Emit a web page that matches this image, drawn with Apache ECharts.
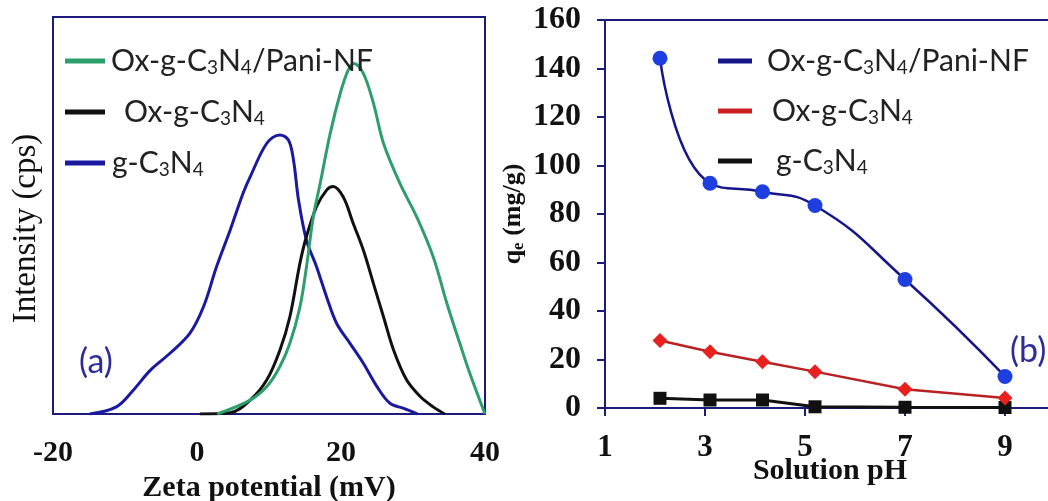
<!DOCTYPE html>
<html>
<head>
<meta charset="utf-8">
<script src="https://cdn.jsdelivr.net/npm/echarts@6/dist/echarts.min.js"></script>
<style>
html,body{margin:0;padding:0;background:#fff;overflow:hidden;}
#main{width:1048px;height:501px;}
</style>
</head>
<body>
<div id="main"></div>
<script>
// panel (a) : zeta potential distributions (x in mV, y arbitrary intensity)
var paniZetaX = [2.8, 7.4, 9.7, 11.5, 12.9, 14.3, 15.2, 16.15, 17.1, 18.5, 19.9, 21, 21.8, 23.1, 24.5, 25.9, 28.2, 30.5, 32.8, 34.7, 36.5, 37.9, 40];
var paniZetaY = [0, 3.5, 6.9, 11.9, 17.8, 27, 37, 49.7, 58, 70.7, 80.8, 86.6, 88.3, 85.8, 78.3, 68.2, 58, 49.7, 39.6, 27.9, 17.8, 10.2, 0];
var oxZetaX = [0.4, 4.6, 7.4, 9.7, 11.5, 12.9, 14.3, 15.2, 16.6, 18, 18.9, 20.3, 21.7, 23.1, 24.5, 25.9, 27.3, 29.1, 31, 32.8, 34.4];
var oxZetaY = [0, 0.3, 3.5, 8.6, 16, 24.5, 38, 44.7, 52.2, 56.4, 57.3, 54.7, 48, 41.3, 32.9, 24.5, 16.1, 8.6, 4.4, 1.8, 0];
var gcnZetaX = [-14.9, -11.2, -8.85, -6.5, -3.75, -1, 0.9, 2.7, 4.6, 6.4, 7.4, 9.7, 11.5, 12.7, 13.4, 14.1, 15.2, 16.6, 18, 19.4, 21.25, 23.1, 25, 26.8, 28.7, 30.6];
var gcnZetaY = [0, 1.8, 6, 11, 15.3, 20.3, 27, 37, 46.3, 55.6, 59.8, 68.2, 70.3, 69, 64, 53.9, 43.8, 37.1, 29.5, 22.8, 17.8, 12.8, 6.9, 2.7, 1.4, 0];

// panel (b) : adsorption capacity vs solution pH
var phValues = [2.1, 3.1, 4.15, 5.2, 7, 9];
var qePani = [144.2, 92.7, 89.2, 83.5, 53, 13];
var qeOx = [27.8, 23.2, 19.1, 15, 7.7, 4.1];
var qeGcn = [4, 3.3, 3.3, 0.5, 0.3, 0.2];
var phTicks = [1, 3, 5, 7, 9];

var navy = '#1c1c7c';
var serif = '"Liberation Serif", "Times New Roman", serif';
var sans = 'Lato, "Open Sans", sans-serif';

function pairs(xs, ys) {
  var out = [];
  for (var i = 0; i < xs.length; i++) out.push([xs[i], ys[i]]);
  return out;
}

// legend labels with subscripts, first token gets a small left pad
var padMap = {
  'Ox-g-C3N4/Pani-NF (a)': 1, 'Ox-g-C3N4 (a)': 14, 'g-C3N4 (a)': 2,
  'Ox-g-C3N4/Pani-NF (b)': 10, 'Ox-g-C3N4 (b)': 15, 'g-C3N4 (b)': 19
};
var legendRich = {
  t: {fontFamily: sans, fontSize: 30, color: '#222', lineHeight: 32},
  s: {fontFamily: sans, fontSize: 19, color: '#222', lineHeight: 19, verticalAlign: 'bottom'}
};
for (var k in padMap) {
  legendRich['p' + padMap[k]] = {fontFamily: sans, fontSize: 30, color: '#222', lineHeight: 32, padding: [0, 0, 0, padMap[k]]};
}
function legendText(name) {
  var base = name.replace(/ \([ab]\)$/, '');
  var s = '{p' + padMap[name] + '|' + base.replace('C3', 'C}{s|3}{t|').replace('N4', 'N}{s|4}{t|') + '}';
  return s.replace('{t|}', '');
}

var chart = echarts.init(document.getElementById('main'));
chart.setOption({
  backgroundColor: '#fff',
  animation: false,
  grid: [
    {left: 53, top: 17, width: 432, height: 397, show: true, borderColor: navy, borderWidth: 2, outerBoundsMode: 'none'},
    {left: 605, top: 20, width: 450, height: 388, show: true, borderColor: navy, borderWidth: 2, outerBoundsMode: 'none'}
  ],
  xAxis: [
    {
      type: 'value', gridIndex: 0, min: -20, max: 40, interval: 20,
      axisLine: {show: true, onZero: false, lineStyle: {color: navy, width: 2}},
      axisTick: {show: false},
      splitLine: {show: false},
      axisLabel: {margin: 24, fontFamily: serif, fontWeight: 'bold', fontSize: 30, color: '#111'},
      name: 'Zeta potential (mV)', nameLocation: 'middle', nameGap: 59, nameMoveOverlap: false,
      nameTextStyle: {fontFamily: serif, fontWeight: 'bold', fontSize: 30, color: '#111'}
    },
    {
      type: 'value', gridIndex: 1, min: 1, max: 10,
      axisLine: {show: true, onZero: false, lineStyle: {color: navy, width: 2}},
      axisTick: {show: true, length: 8, customValues: phTicks, lineStyle: {color: navy, width: 2}},
      splitLine: {show: false},
      axisLabel: {margin: 24, customValues: phTicks, fontFamily: serif, fontWeight: 'bold', fontSize: 31, color: '#111'},
      name: 'Solution pH', nameLocation: 'middle', nameGap: 48, nameMoveOverlap: false,
      nameTextStyle: {fontFamily: serif, fontWeight: 'bold', fontSize: 30, color: '#111'}
    }
  ],
  yAxis: [
    {
      type: 'value', gridIndex: 0, min: 0, max: 100,
      axisLine: {show: true, onZero: false, lineStyle: {color: navy, width: 2}},
      axisTick: {show: false}, axisLabel: {show: false}, splitLine: {show: false},
      name: 'Intensity (cps)', nameLocation: 'middle', nameGap: 10,
      nameTextStyle: {fontFamily: serif, fontSize: 33, color: '#111', padding: [0, 26, 0, 0]}
    },
    {
      type: 'value', gridIndex: 1, min: 0, max: 160, interval: 20,
      axisLine: {show: true, onZero: false, lineStyle: {color: navy, width: 2}},
      axisTick: {show: true, length: 8, lineStyle: {color: navy, width: 2}},
      splitLine: {show: false},
      axisLabel: {margin: 24, fontFamily: serif, fontWeight: 'bold', fontSize: 32, color: '#111'},
      name: '{q|q}{e|e}{q| (mg/g)}', nameLocation: 'middle', nameGap: 78, nameMoveOverlap: false,
      nameTextStyle: {
        rich: {
          q: {fontFamily: serif, fontWeight: 'bold', fontSize: 26, color: '#111', lineHeight: 28},
          e: {fontFamily: serif, fontWeight: 'bold', fontSize: 17, color: '#111', lineHeight: 17, verticalAlign: 'bottom'}
        }
      }
    }
  ],
  legend: [
    {
      left: 60, top: 41, orient: 'vertical', icon: 'rect', itemWidth: 40, itemHeight: 5, itemGap: 20,
      selectedMode: false, formatter: legendText, textStyle: {rich: legendRich},
      data: [
        {name: 'Ox-g-C3N4/Pani-NF (a)', itemStyle: {color: '#2e9e6e'}},
        {name: 'Ox-g-C3N4 (a)', itemStyle: {color: '#111'}},
        {name: 'g-C3N4 (a)', itemStyle: {color: '#1a1aa0'}}
      ]
    },
    {
      left: 713, top: 41, orient: 'vertical', icon: 'rect', itemWidth: 34, itemHeight: 5, itemGap: 19,
      selectedMode: false, formatter: legendText, textStyle: {rich: legendRich},
      data: [
        {name: 'Ox-g-C3N4/Pani-NF (b)', itemStyle: {color: '#16168a'}},
        {name: 'Ox-g-C3N4 (b)', itemStyle: {color: '#cc1f1f'}},
        {name: 'g-C3N4 (b)', itemStyle: {color: '#111'}}
      ]
    }
  ],
  graphic: [
    {type: 'text', left: 79, top: 345, style: {text: '(a)', font: '34px ' + sans, fill: '#2d2d99'}},
    {type: 'text', left: 1010, top: 334, style: {text: '(b)', font: '34px ' + sans, fill: '#2d2d99'}}
  ],
  series: [
    {
      name: 'g-C3N4 (a)', type: 'line', xAxisIndex: 0, yAxisIndex: 0, smooth: 0.35, showSymbol: false,
      data: pairs(gcnZetaX, gcnZetaY), lineStyle: {color: '#1a1aa0', width: 3}, itemStyle: {color: '#1a1aa0'}
    },
    {
      name: 'Ox-g-C3N4 (a)', type: 'line', xAxisIndex: 0, yAxisIndex: 0, smooth: 0.35, showSymbol: false,
      data: pairs(oxZetaX, oxZetaY), lineStyle: {color: '#111', width: 3}, itemStyle: {color: '#111'}
    },
    {
      name: 'Ox-g-C3N4/Pani-NF (a)', type: 'line', xAxisIndex: 0, yAxisIndex: 0, smooth: 0.35, showSymbol: false,
      data: pairs(paniZetaX, paniZetaY), lineStyle: {color: '#2e9e6e', width: 3}, itemStyle: {color: '#2e9e6e'}
    },
    {
      name: 'g-C3N4 (b)', type: 'line', xAxisIndex: 1, yAxisIndex: 1, symbol: 'rect', symbolSize: 13,
      data: pairs(phValues, qeGcn), lineStyle: {color: '#111', width: 3}, itemStyle: {color: '#111'}
    },
    {
      name: 'Ox-g-C3N4 (b)', type: 'line', xAxisIndex: 1, yAxisIndex: 1, symbol: 'diamond', symbolSize: 15,
      data: pairs(phValues, qeOx), lineStyle: {color: '#b82222', width: 2.5}, itemStyle: {color: '#e8201e'}
    },
    {
      name: 'Ox-g-C3N4/Pani-NF (b)', type: 'line', xAxisIndex: 1, yAxisIndex: 1, symbol: 'circle', symbolSize: 15,
      smooth: 0.5, data: pairs(phValues, qePani), lineStyle: {color: '#16168a', width: 2.5}, itemStyle: {color: '#1f3ee0'}
    }
  ]
});
</script>
</body>
</html>
